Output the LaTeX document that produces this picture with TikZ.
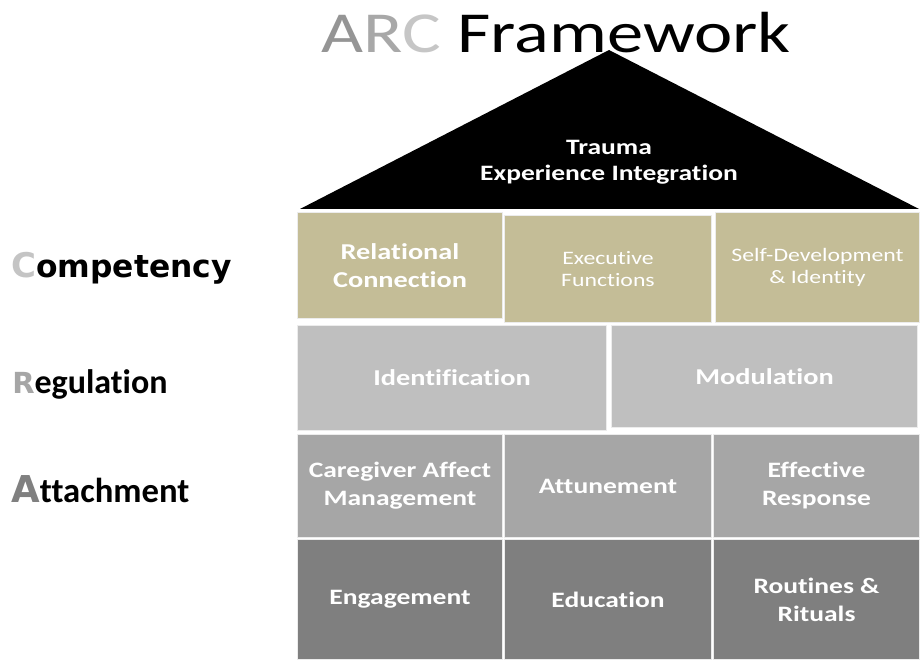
\documentclass[tikz,border=0pt]{standalone}
\usepackage{fontspec}
\usepackage{graphicx}
\setmainfont{Carlito}[Ligatures=CommonOff]
\newfontfamily\dvs{DejaVu Sans}
\definecolor{tanfill}{HTML}{C4BD97}
\definecolor{lgrayfill}{HTML}{BFBFBF}
\definecolor{mgrayfill}{HTML}{A6A6A6}
\definecolor{dgrayfill}{HTML}{7F7F7F}
\definecolor{cellline}{HTML}{ECECEC}
\definecolor{arcA}{HTML}{959595}
\definecolor{arcR}{HTML}{A8A8A8}
\definecolor{arcC}{HTML}{C6C6C6}
\definecolor{capC}{HTML}{C4C4C4}
\definecolor{capR}{HTML}{A6A6A6}
\definecolor{capA}{HTML}{808080}
\newcommand\wide[1]{\scalebox{1.25}[1]{#1}}
\begin{document}
\begin{tikzpicture}[x=0.75pt,y=-0.75pt,
  cell/.style n args={2}{rectangle, anchor=north west, inner sep=0pt,
    minimum width=#1*0.75pt, minimum height=#2*0.75pt,
    draw=cellline, line width=0.75pt, text=white, align=center,
    font=\bfseries\fontsize{17pt}{20.5pt}\selectfont},
  smalltext/.style={font=\fontsize{14.25pt}{16.75pt}\selectfont},
  rowtext/.style={font=\bfseries\fontsize{16.5pt}{21pt}\selectfont},
  sidelabel/.style={anchor=base west, inner sep=0pt}]
\fill[white] (0,0) rectangle (923,666);
\useasboundingbox (0,0) rectangle (923,666);

% title
\node[anchor=base, inner sep=0pt, font=\fontsize{43.5pt}{50pt}\selectfont] (title) at (556,53)
  {\wide{\textcolor{arcA}{A}\textcolor{arcR}{R}\textcolor{arcC}{C} Framework}};

% roof
\fill[black] (300,209) -- (609,50) -- (919,209) -- cycle;
\node[text=white, align=center, inner sep=0pt, font=\bfseries\fontsize{16.5pt}{19.5pt}\selectfont] (trauma) at (609,162)
  {\wide{Trauma}\\\wide{Experience Integration}};

% Competency row
\node[cell={205}{106}, fill=tanfill] (rc) at (297,212) {\wide{Relational}\\\wide{Connection}};
\node[cell={207}{107}, fill=tanfill, smalltext] (ef) at (504,215) {\wide{Executive}\\\wide{Functions}};
\node[cell={204}{110}, fill=tanfill, smalltext] (sd) at (715,212) {\wide{Self-Development}\\\wide{\& Identity}};

% Regulation row
\node[cell={309}{105}, fill=lgrayfill] (id) at (297,325) {\wide{Identification}};
\node[cell={306}{102}, fill=lgrayfill] (mo) at (611,325) {\wide{Modulation}};

% Attachment rows
\node[cell={205}{103}, fill=mgrayfill, rowtext] (ca) at (297,434) {\wide{Caregiver Affect}\\\wide{Management}};
\node[cell={207}{103}, fill=mgrayfill, rowtext] (at) at (504,434) {\wide{Attunement}};
\node[cell={206}{103}, fill=mgrayfill, rowtext] (er) at (713,434) {\wide{Effective}\\\wide{Response}};
\node[cell={205}{120}, fill=dgrayfill, rowtext] (en) at (297,539) {\wide{Engagement}};
\node[cell={207}{120}, fill=dgrayfill, rowtext] (ed) at (504,539) {\wide{Education}};
\node[cell={206}{120}, fill=dgrayfill, rowtext] (rr) at (713,539) {\wide{Routines \&}\\\wide{Rituals}};

% side labels
\node[sidelabel] (comp) at (11,277)
  {{\dvs\bfseries\fontsize{25.5pt}{30pt}\selectfont\textcolor{capC}{C}}{\dvs\bfseries\fontsize{23.5pt}{28pt}\selectfont ompetency}};
\node[sidelabel] (reg) at (12,393)
  {{\dvs\bfseries\fontsize{21.75pt}{26pt}\selectfont\textcolor{capR}{R}}{\bfseries\fontsize{25.5pt}{30pt}\selectfont egulation}};
\node[sidelabel] (att) at (11,502)
  {{\dvs\bfseries\fontsize{27.75pt}{32pt}\selectfont\textcolor{capA}{A}}{\bfseries\fontsize{26pt}{30pt}\selectfont ttachment}};
\end{tikzpicture}
\end{document}
